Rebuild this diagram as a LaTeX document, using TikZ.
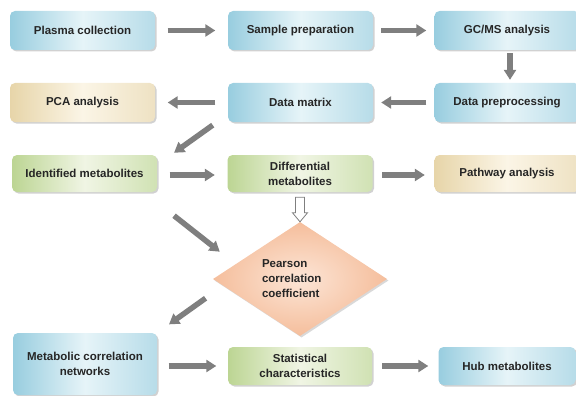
\documentclass[tikz,border=0pt]{standalone}
\usepackage{fontspec}
\setmainfont{Liberation Sans}
\usetikzlibrary{arrows.meta,shapes.geometric,shadows}

\definecolor{blueedge}{HTML}{98CDDF}
\definecolor{bluemid}{HTML}{E6F4F8}
\definecolor{greenedge}{HTML}{BCD593}
\definecolor{greenmid}{HTML}{F0F5E4}
\definecolor{tanedge}{HTML}{E7D5A9}
\definecolor{tanmid}{HTML}{FBF5E6}
\definecolor{peachedge}{HTML}{F5BE9C}
\definecolor{peachmid}{HTML}{FCE5D6}
\definecolor{arrowgray}{HTML}{7F7F7F}

\tikzset{
  stage/.style={rectangle, rounded corners=5pt, minimum width=145pt, minimum height=39pt,
    align=center, text=black!85, font=\bfseries\fontsize{11.5}{15}\selectfont,
    drop shadow={shadow xshift=1.5pt, shadow yshift=-1.5pt, opacity=0.3, fill=black!60}},
  bluestage/.style={stage, left color=blueedge, right color=blueedge!70, middle color=bluemid},
  greenstage/.style={stage, left color=greenedge, right color=greenedge!70, middle color=greenmid},
  tanstage/.style={stage, left color=tanedge, right color=tanedge!70, middle color=tanmid},
  flow/.style={draw=arrowgray, line width=5.5pt, -{Triangle[length=10pt,width=12pt]}},
  clearance/.style={shorten <=#1, shorten >=#1},
  hollow/.style={draw=arrowgray, line width=0.8pt, fill=white, line join=miter},
}

\begin{document}
\begin{tikzpicture}[x=1pt,y=-1pt]
  \useasboundingbox (0,0) rectangle (576,396);

  % first row
  \node[bluestage] (plasma) at (82.5,30.5) {Plasma collection};
  \node[bluestage] (sample) at (300.5,30.5) {Sample preparation};
  \node[bluestage] (gcms) at (507,30.5) {GC/MS analysis};

  % second row
  \node[tanstage] (pca) at (82.5,102.5) {PCA analysis};
  \node[bluestage] (matrix) at (300.5,102.5) {Data matrix};
  \node[bluestage] (preproc) at (507,102.5) {Data preprocessing};

  % third row
  \node[greenstage, minimum height=37pt] (ident) at (84.5,173.5) {Identified metabolites};
  \node[greenstage, minimum height=37pt] (diff) at (300,173.5) {Differential\\metabolites};
  \node[tanstage, minimum height=37pt] (pathway) at (507,173.5) {Pathway analysis};

  % correlation step
  \node[diamond, inner color=peachmid, outer color=peachedge, minimum width=174pt,
    minimum height=106pt, inner sep=0pt, text width=76pt, align=left, text=black!85,
    font=\bfseries\fontsize{11.5}{15}\selectfont,
    drop shadow={shadow xshift=1.5pt, shadow yshift=-1.5pt, opacity=0.25, fill=black!60}]
    (pcc) at (300,279) {Pearson\\correlation\\coefficient};

  % last row
  \node[bluestage, minimum width=144pt, minimum height=62pt] (net) at (85,364) {Metabolic correlation\\networks};
  \node[greenstage, minimum width=144pt, minimum height=38pt] (stat) at (300,366) {Statistical\\characteristics};
  \node[bluestage, minimum width=137pt, minimum height=38pt] (hub) at (507,366) {Hub metabolites};

  % connectors
  \draw[flow, clearance=12.5pt] (plasma) -- (sample);
  \draw[flow, clearance=8pt] (sample) -- (gcms);
  \draw[flow, clearance=3pt] ([xshift=3pt]gcms.south) -- ([xshift=3pt]preproc.north);
  \draw[flow, clearance=8pt] (preproc) -- (matrix);
  \draw[flow, clearance=12.5pt] (matrix) -- (pca);
  \draw[flow, shorten <=5pt, shorten >=3.5pt] ([xshift=-11pt]matrix.south west) -- ([xshift=14pt]ident.north east);
  \draw[flow, clearance=12.5pt] ([yshift=-1.5pt]ident.east) -- ([yshift=-1.5pt]diff.west);
  \draw[flow, clearance=9.5pt] ([yshift=-1.5pt]diff.east) -- ([yshift=-1.5pt]pathway.west);
  \draw[flow, shorten <=38pt, shorten >=20pt] ([xshift=-13pt]ident.south east) -- (pcc.167);
  \draw[flow, shorten <=21.5pt, shorten >=14.5pt] (pcc.185) -- (net.north east);
  \draw[flow, clearance=11.5pt] ([yshift=-2pt]net.east) -- (stat.west);
  \draw[flow, clearance=10pt] (stat) -- (hub);

  % hollow arrow into the diamond
  \draw[hollow] (pcc.north) -- ++(-7.5,-9) -- ++(3,0) -- ([xshift=-4.5pt,yshift=-5pt]diff.south)
    -- ([xshift=4.5pt,yshift=-5pt]diff.south) -- ([xshift=4.5pt,yshift=9pt]pcc.north) -- ++(3,0) -- cycle;
\end{tikzpicture}
\end{document}
